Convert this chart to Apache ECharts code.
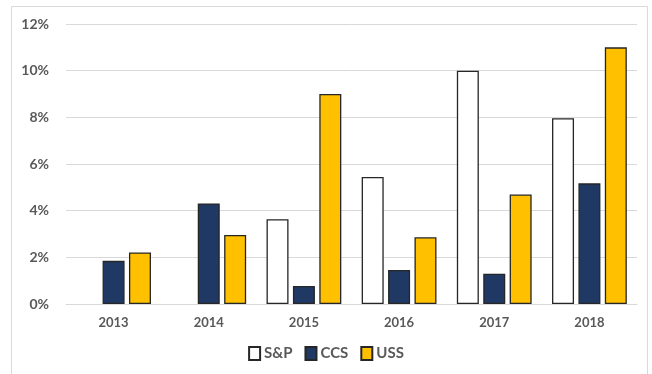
<!DOCTYPE html>
<html>
<head>
<meta charset="utf-8">
<script src="https://cdn.jsdelivr.net/npm/echarts@6/dist/echarts.min.js"></script>
<style>html,body{margin:0;padding:0;background:#fff;}#c{width:652px;height:374px;}</style>
</head>
<body>
<div id="c"></div>
<script>
const categories = ['2013', '2014', '2015', '2016', '2017', '2018'];
const spValues  = [null, null, 3.63, 5.44, 10.0, 7.96];
const ccsValues = [1.85, 4.31, 0.77, 1.46, 1.30, 5.17];
const ussValues = [2.21, 2.96, 9.0, 2.86, 4.69, 11.0];
const yTicks = [0, 2, 4, 6, 8, 10, 12];

const chart = echarts.init(document.getElementById('c'), null, {renderer: 'canvas'});
const font = 'Lato, "Open Sans", sans-serif';
const txt = '#595959';
function s(name, data, color) {
  return {
    name: name, type: 'bar', data: data, barWidth: 22, barGap: '20%',
    itemStyle: {color: color, borderColor: '#262626', borderWidth: 1.3},
    emphasis: {disabled: true}
  };
}
chart.setOption({
  animation: false,
  graphic: [{type: 'rect', shape: {x: 11.5, y: 6.5, width: 636, height: 380},
    style: {fill: 'none', stroke: '#d9d9d9', lineWidth: 1}, silent: true}],
  grid: {left: 66, right: 15, top: 24, bottom: 70},
  legend: {
    bottom: 8, left: 'center', itemWidth: 11, itemHeight: 13, itemGap: 12,
    icon: 'rect',
    textStyle: {color: txt, fontFamily: font, fontWeight: 'bold', fontSize: 15, padding: [0,0,0,-1]},
    data: ['S&P', 'CCS', 'USS']
  },
  xAxis: {
    type: 'category', data: categories,
    axisLine: {lineStyle: {color: '#d9d9d9'}}, axisTick: {show: false},
    axisLabel: {color: txt, fontFamily: font, fontWeight: 'bold', fontSize: 13, margin: 12}
  },
  yAxis: {
    type: 'value', min: yTicks[0], max: yTicks[yTicks.length - 1], interval: 2,
    axisLine: {show: false}, axisTick: {show: false},
    splitLine: {lineStyle: {color: '#d9d9d9', width: 1}},
    axisLabel: {color: txt, fontFamily: font, fontWeight: 'bold', fontSize: 14, margin: 17,
      formatter: v => v + '%'}
  },
  series: [s('S&P', spValues, '#ffffff'), s('CCS', ccsValues, '#203864'), s('USS', ussValues, '#ffc000')]
});
</script>
</body>
</html>
